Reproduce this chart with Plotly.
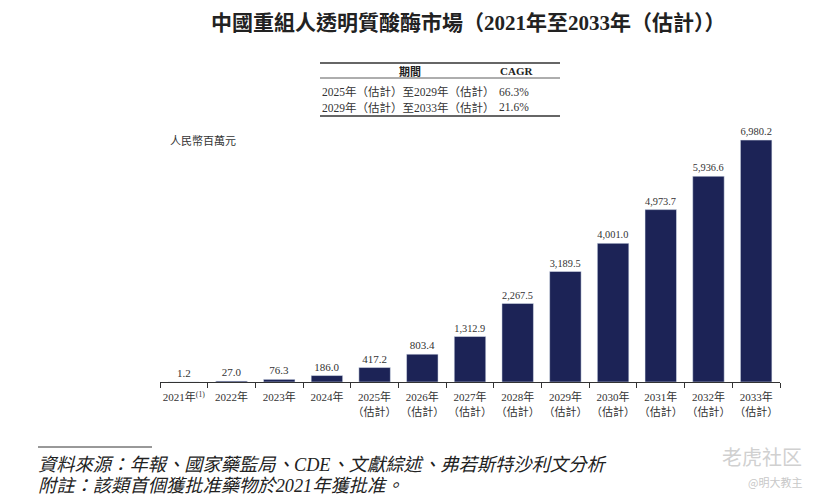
import plotly.graph_objects as go

years = ["2021", "2022", "2023", "2024", "2025", "2026", "2027",
         "2028", "2029", "2030", "2031", "2032", "2033"]
tick_labels = ["2021年<sup>(1)</sup>", "2022年", "2023年", "2024年",
               "2025年<br>（估計）", "2026年<br>（估計）", "2027年<br>（估計）",
               "2028年<br>（估計）", "2029年<br>（估計）", "2030年<br>（估計）",
               "2031年<br>（估計）", "2032年<br>（估計）", "2033年<br>（估計）"]
values = [1.2, 27.0, 76.3, 186.0, 417.2, 803.4, 1312.9,
          2267.5, 3189.5, 4001.0, 4973.7, 5936.6, 6980.2]

cagr_periods = ["2025年（估計）至2029年（估計）", "2029年（估計）至2033年（估計）"]
cagr_values = ["66.3%", "21.6%"]

W, H = 817, 501
L, R, T, B = 160, 780, 129, 382
FONT = "Liberation Serif, Noto Sans CJK TC, serif"
NAVY = "#1c2356"

def px(x):
    return (x - L) / (R - L)

def py(y):
    return (B - y) / (B - T)

fig = go.Figure(go.Bar(
    x=years, y=values, marker_color=NAVY, width=0.66,
    text=values, texttemplate="%{y:,.1f}", textposition="outside",
    textfont=dict(family=FONT, size=11, color="#333"),
    cliponaxis=False, hoverinfo="skip",
))

fig.update_layout(
    width=W, height=H,
    margin=dict(l=L, r=W - R, t=T, b=H - B, autoexpand=False),
    paper_bgcolor="white", plot_bgcolor="white",
    showlegend=False, bargap=0.34,
    font=dict(family=FONT, color="#333"),
)
fig.update_xaxes(
    type="category", tickvals=years, ticktext=tick_labels, tickangle=0,
    automargin=False, ticklabelstandoff=5,
    tickson="boundaries", ticks="outside", ticklen=5, tickcolor="#333", tickwidth=1,
    showline=True, linecolor="#333", linewidth=1, showgrid=False,
    tickfont=dict(family=FONT, size=11, color="#333"),
)
fig.update_yaxes(range=[0, 7300], visible=False, showgrid=False, automargin=False)

ann = []
shapes = []

def text(x, y, s, size, color="#333", xanchor="center", family=FONT):
    ann.append(dict(x=px(x), y=py(y), xref="paper", yref="paper", text=s,
                    showarrow=False, xanchor=xanchor, yanchor="middle",
                    font=dict(family=family, size=size, color=color)))

# title
text(468, 23, "<b>中國重組人透明質酸酶市場（2021年至2033年（估計））</b>", 21, "#222")
# table lines
for y0, w in [(63, 1.5), (78, 0.8), (116, 1.5)]:
    shapes.append(dict(type="line", xref="paper", yref="paper",
                       x0=px(320), x1=px(560), y0=py(y0), y1=py(y0),
                       line=dict(color="#333", width=w)))
text(410, 71, "<b>期間</b>", 11, "#222")
text(516, 71, "<b>CAGR</b>", 11, "#222")
for i, (p, c) in enumerate(zip(cagr_periods, cagr_values)):
    yy = 92 + i * 15
    text(408, yy, p, 11.5)
    text(514, yy, c, 11.5)
# unit
text(168, 141, "人民幣百萬元", 11, xanchor="left")
# footnotes
shapes.append(dict(type="line", xref="paper", yref="paper",
                   x0=px(38), x1=px(152), y0=py(447), y1=py(447),
                   line=dict(color="#333", width=1)))
text(36, 465, "<i>資料來源：年報、國家藥監局、CDE、文獻綜述、弗若斯特沙利文分析</i>", 18.3, "#222", "left")
text(36, 486, "<i>附註：該類首個獲批准藥物於2021年獲批准。</i>", 18.3, "#222", "left")
# watermark
text(804, 456, "老虎社区", 20, "#d0d0d0", "right", "Noto Sans CJK SC")
text(804, 482, "@明大教主", 11, "#c8c8c8", "right", "Noto Sans CJK SC")

fig.update_layout(annotations=ann, shapes=shapes)
fig.write_html("out.html", config={"displayModeBar": False},
               post_script="document.body.style.margin='0';document.body.style.padding='0';")
